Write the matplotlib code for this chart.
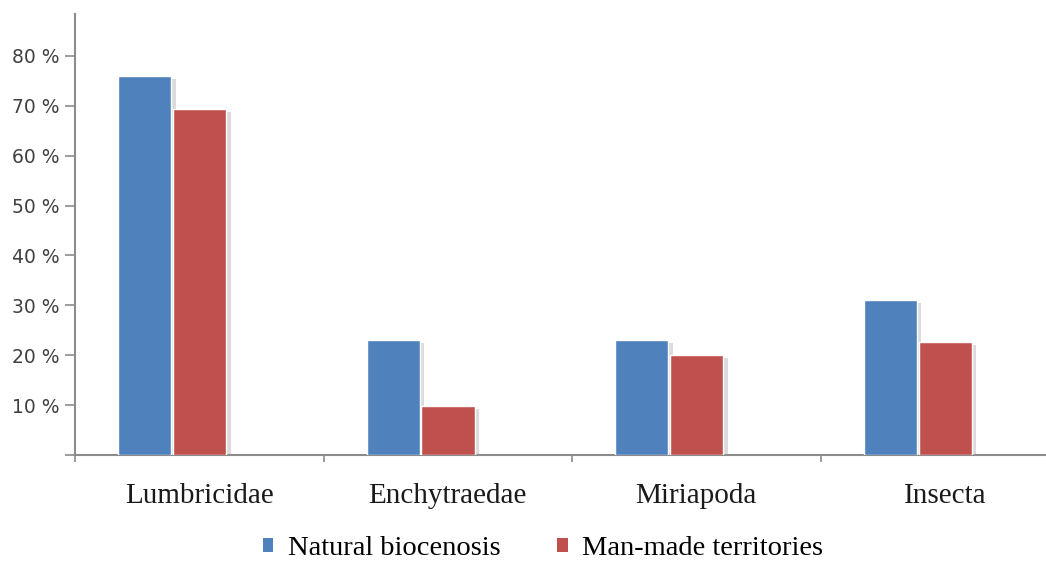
import matplotlib.pyplot as plt
import matplotlib.patheffects as pe
from matplotlib.patches import Patch
import numpy as np

categories = ['Lumbricidae', 'Enchytraedae', 'Miriapoda', 'Insecta']
natural = [76, 23, 23, 31]
man_made = [69.3, 9.8, 20, 22.6]
series_names = ['Natural biocenosis', 'Man-made territories']
y_ticks = [0, 10, 20, 30, 40, 50, 60, 70, 80]
y_tick_labels = ['', '10 %', '20 %', '30 %', '40 %', '50 %', '60 %', '70 %', '80 %']

blue = '#4F81BD'
red = '#C0504D'
axis_grey = '#8C8C8C'

fig = plt.figure(figsize=(10.46, 5.61), dpi=100)
ax = fig.add_axes([0.0717, 0.189, 0.9283, 0.786])

x = np.arange(len(categories))
w = 0.215
shadow = [pe.SimplePatchShadow(offset=(3, -2), shadow_rgbFace='#9a9a9a', alpha=0.35), pe.Normal()]

b1 = ax.bar(x + 0.173, natural, w, align='edge', color=blue, edgecolor='white', linewidth=1, zorder=3)
b2 = ax.bar(x + 0.394, man_made, w, align='edge', color=red, edgecolor='white', linewidth=1, zorder=3)
for r in list(b1) + list(b2):
    r.set_path_effects(shadow)

ax.set_xlim(0, 3.907)
ax.set_ylim(0, 88.4)

# boundaries as major ticks, category names as minor ticks
ax.set_xticks(np.arange(0, 4))
ax.set_xticklabels([])
ax.set_xticks(x + 0.5, minor=True)
ax.set_xticklabels(categories, minor=True, fontsize=21, family='Liberation Serif', color='#1a1a1a')
ax.tick_params(axis='x', which='major', length=5, color=axis_grey, width=1.2)
ax.tick_params(axis='x', which='minor', length=0, pad=20)

ax.set_yticks(y_ticks)
ax.set_yticklabels(y_tick_labels, fontsize=13.5, color='#404040')
ax.tick_params(axis='y', length=7, color=axis_grey, width=1.2, pad=4)

for s in ['top', 'right']:
    ax.spines[s].set_visible(False)
for s in ['left', 'bottom']:
    ax.spines[s].set_color(axis_grey)
    ax.spines[s].set_linewidth(1.5)

handles = [Patch(facecolor=blue), Patch(facecolor=red)]
fig.legend(handles, series_names, loc='center', bbox_to_anchor=(0.519, 0.022), ncol=2,
           frameon=False, prop={'family': 'Liberation Serif', 'size': 20.5},
           handlelength=0.38, handleheight=0.38, handletextpad=0.5, columnspacing=2.0)

plt.savefig('out.png', dpi=100)
